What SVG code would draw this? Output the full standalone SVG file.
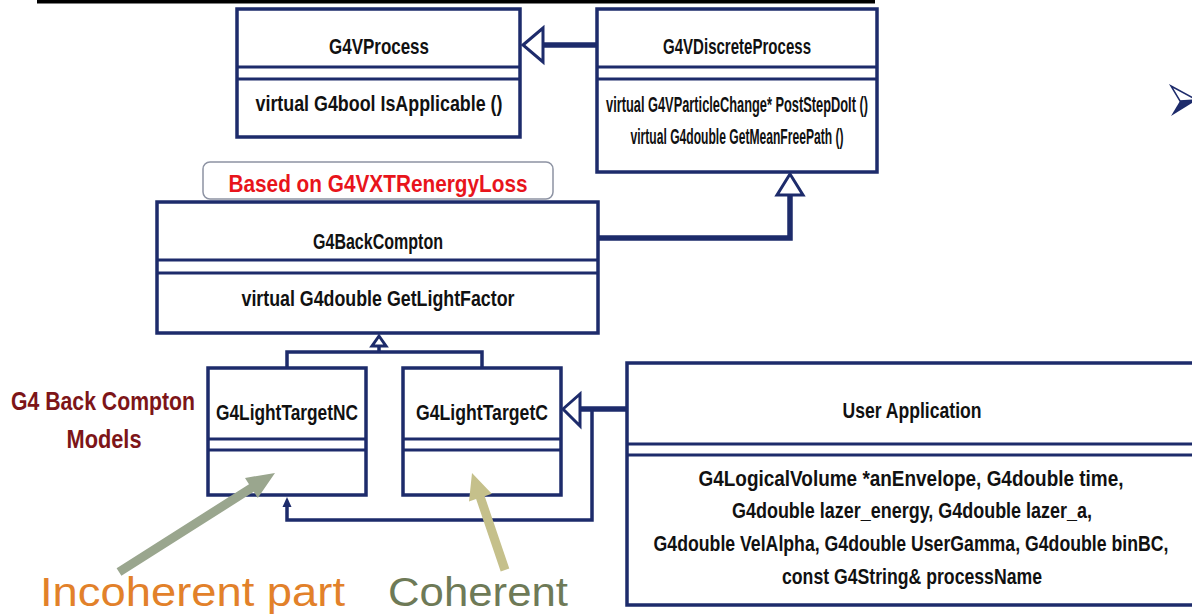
<svg xmlns="http://www.w3.org/2000/svg" width="1192" height="615" viewBox="0 0 1192 615">
  <style>
    .box { fill: #ffffff; stroke: #1d2b6b; stroke-width: 3.5; }
    .sep { stroke: #1d2b6b; stroke-width: 3; fill: none; }
    .t { font-family: "Liberation Sans", Arial, sans-serif; font-weight: bold; font-size: 22px; fill: #111111; text-anchor: middle; }
    .edge { stroke: #1d2b6b; fill: none; stroke-linejoin: miter; }
    .thick { stroke-width: 5.5; }
    .thin { stroke-width: 3.5; }
    .head { fill: #ffffff; stroke: #1d2b6b; stroke-width: 3; stroke-linejoin: miter; }
    .cap { font-family: "Liberation Sans", Arial, sans-serif; font-size: 41px; }
  </style>

  <!-- title underline -->
  <rect x="37" y="0" width="838" height="3.5" fill="#000000"/>

  <!-- bullet marker -->
  <g id="bullet">
    <polygon points="1171,86 1197,100 1180,101" fill="#ffffff" stroke="#1d2b6b" stroke-width="1.5"/>
    <polygon points="1180,101 1197,100 1171,116" fill="#1d2b6b"/>
  </g>

  <!-- connectors -->
  <g id="connectors">
    <!-- G4VDiscreteProcess -> G4VProcess -->
    <line class="edge thick" x1="543" y1="45" x2="597" y2="45"/>
    <polygon class="head" points="523,45 543,28 543,62"/>
    <!-- G4BackCompton -> G4VDiscreteProcess -->
    <polyline class="edge thick" points="598,238 790,238 790,195"/>
    <polygon class="head" points="790,174 777,195 803,195"/>
    <!-- light targets -> G4BackCompton -->
    <polyline class="edge thin" points="287,368 287,352 482,352 482,368"/>
    <line class="edge thin" x1="379" y1="346" x2="379" y2="352"/>
    <polygon class="head" stroke-width="2.5" points="379,336 372,346 386,346"/>
    <!-- User Application -> G4LightTargetC -->
    <line class="edge thick" x1="580" y1="409" x2="627" y2="409"/>
    <polygon class="head" points="563,409 580,394 580,426"/>
    <!-- User Application -> G4LightTargetNC -->
    <polyline class="edge thin" points="592,409 592,520 287,520 287,506"/>
    <polygon points="287,497 282.5,507 291.5,507" fill="#1d2b6b"/>
  </g>

  <g id="g4vprocess">
    <rect class="box" x="237" y="9" width="283" height="128"/>
    <line class="sep" x1="237" y1="67" x2="520" y2="67"/>
    <line class="sep" x1="237" y1="79" x2="520" y2="79"/>
    <text class="t" x="379" y="54" textLength="100" lengthAdjust="spacingAndGlyphs">G4VProcess</text>
    <text class="t" x="379" y="111" textLength="247" lengthAdjust="spacingAndGlyphs">virtual G4bool IsApplicable ()</text>
  </g>

  <g id="g4vdiscreteprocess">
    <rect class="box" x="597" y="9" width="280" height="163"/>
    <line class="sep" x1="597" y1="67" x2="877" y2="67"/>
    <line class="sep" x1="597" y1="79" x2="877" y2="79"/>
    <text class="t" x="737" y="54" textLength="148" lengthAdjust="spacingAndGlyphs">G4VDiscreteProcess</text>
    <text class="t" x="737" y="112" textLength="262" lengthAdjust="spacingAndGlyphs">virtual G4VParticleChange* PostStepDoIt ()</text>
    <text class="t" x="737" y="144" textLength="213" lengthAdjust="spacingAndGlyphs">virtual G4double GetMeanFreePath ()</text>
  </g>

  <g id="based-on-note">
    <rect x="203" y="162" width="350" height="37" rx="7" ry="7" fill="#ffffff" stroke="#8d93a3" stroke-width="1.5"/>
    <text class="t" x="378" y="192" style="fill:#e8141b;font-size:24px" textLength="299" lengthAdjust="spacingAndGlyphs">Based on G4VXTRenergyLoss</text>
  </g>

  <g id="g4backcompton">
    <rect class="box" x="157" y="202" width="441" height="131"/>
    <line class="sep" x1="157" y1="260" x2="598" y2="260"/>
    <line class="sep" x1="157" y1="273" x2="598" y2="273"/>
    <text class="t" x="378" y="249" textLength="130" lengthAdjust="spacingAndGlyphs">G4BackCompton</text>
    <text class="t" x="378" y="306" textLength="273" lengthAdjust="spacingAndGlyphs">virtual G4double GetLightFactor</text>
  </g>

  <g id="models-label">
    <text class="t" x="103" y="410" style="fill:#7d1518;font-size:25px" textLength="184" lengthAdjust="spacingAndGlyphs">G4 Back Compton</text>
    <text class="t" x="104" y="448" style="fill:#7d1518;font-size:25px" textLength="75" lengthAdjust="spacingAndGlyphs">Models</text>
  </g>

  <g id="g4lighttargetnc">
    <rect class="box" x="208" y="368" width="158" height="127"/>
    <line class="sep" x1="208" y1="439" x2="366" y2="439"/>
    <line class="sep" x1="208" y1="450" x2="366" y2="450"/>
    <text class="t" x="287" y="420" textLength="142" lengthAdjust="spacingAndGlyphs">G4LightTargetNC</text>
  </g>

  <g id="g4lighttargetc">
    <rect class="box" x="403" y="368" width="158" height="127"/>
    <line class="sep" x1="403" y1="439" x2="561" y2="439"/>
    <line class="sep" x1="403" y1="450" x2="561" y2="450"/>
    <text class="t" x="482" y="420" textLength="132" lengthAdjust="spacingAndGlyphs">G4LightTargetC</text>
  </g>

  <g id="user-application">
    <rect class="box" x="627" y="363" width="580" height="242"/>
    <line class="sep" x1="627" y1="444" x2="1192" y2="444"/>
    <line class="sep" x1="627" y1="455" x2="1192" y2="455"/>
    <text class="t" x="912" y="418" textLength="139" lengthAdjust="spacingAndGlyphs">User Application</text>
    <text class="t" x="911" y="486" textLength="425" lengthAdjust="spacingAndGlyphs">G4LogicalVolume *anEnvelope, G4double time,</text>
    <text class="t" x="912" y="518" textLength="360" lengthAdjust="spacingAndGlyphs">G4double lazer_energy, G4double lazer_a,</text>
    <!-- widest line: narrowed with a horizontal scale so it stays inside the frame -->
    <text class="t" transform="translate(911,551) scale(0.72,1)" x="0" y="0" textLength="715" lengthAdjust="spacingAndGlyphs">G4double VelAlpha, G4double UserGamma, G4double binBC,</text>
    <text class="t" x="912" y="584" textLength="260" lengthAdjust="spacingAndGlyphs">const G4String&amp; processName</text>
  </g>

  <!-- annotation arrows and captions -->
  <g id="incoherent-note">
    <polygon fill="#9aa68e" points="116.6,568.2 249,484.2 245,477.9 275,473 257.8,498.1 253.8,491.8 121.4,575.8"/>
    <text class="cap" x="40" y="606" fill="#e2812a" textLength="305" lengthAdjust="spacingAndGlyphs">Incoherent part</text>
  </g>
  <g id="coherent-note">
    <polygon fill="#c5c08b" points="500.7,571.4 476.1,499 469,501.5 472,473 491.8,493.7 484.7,496.2 509.3,568.6"/>
    <text class="cap" x="388" y="606" fill="#6e7a57" textLength="180" lengthAdjust="spacingAndGlyphs">Coherent</text>
  </g>
</svg>
